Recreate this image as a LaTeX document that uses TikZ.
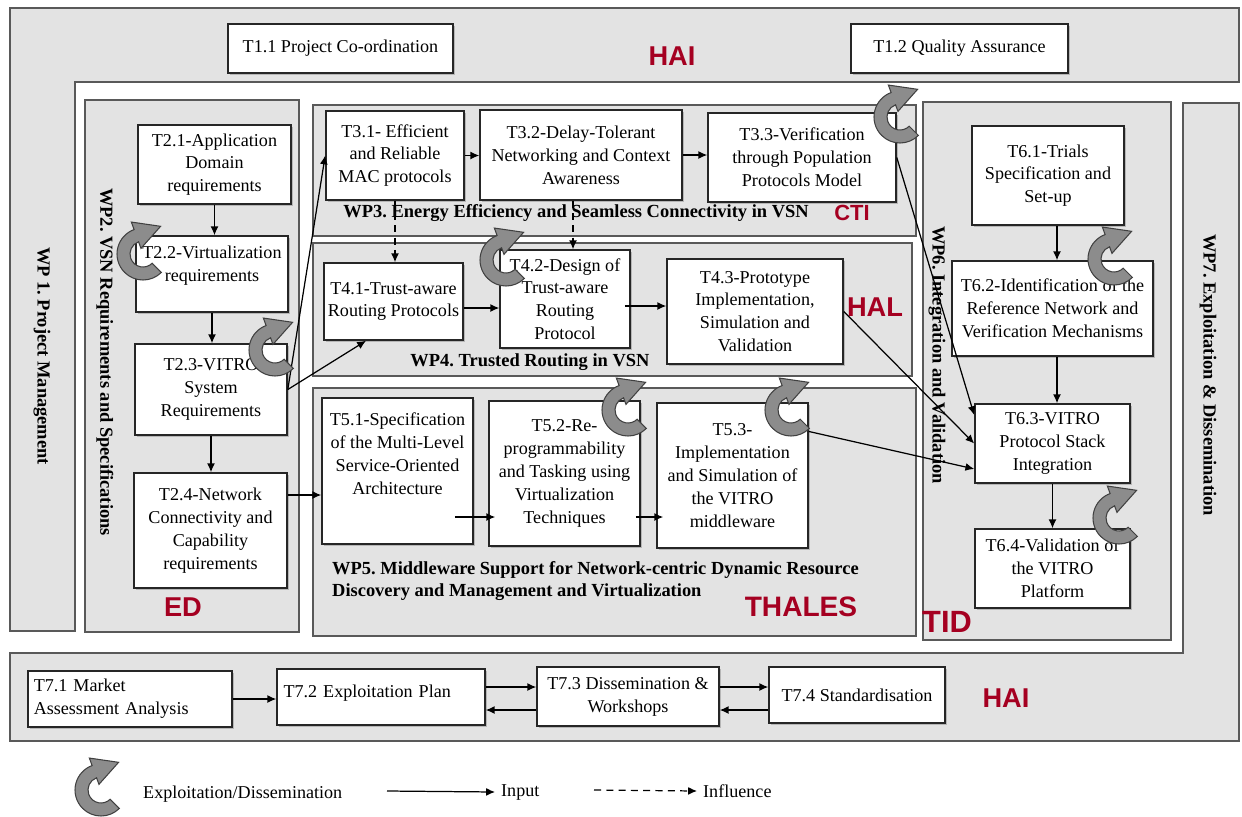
\documentclass[tikz,border=0pt]{standalone}
\usepackage{fontspec}
\setmainfont{Liberation Serif}
\setsansfont{Liberation Sans}
\frenchspacing
\usetikzlibrary{arrows.meta,calc,shadows}
\definecolor{partnerred}{RGB}{165,0,33}
\tikzset{
  wpframe/.style={draw=black!65, line width=1.4pt, fill=black!11},
  task/.style={draw=black!85, line width=0.9pt, fill=white, inner sep=0pt, align=center,
    font=\fontsize{10.3}{13}\selectfont,
    drop shadow={shadow xshift=1.1pt, shadow yshift=-1.1pt, opacity=0.45}},
  boxsize/.style 2 args={minimum width=#1*0.02cm, minimum height=#2*0.02cm},
  wplabel/.style={font=\fontsize{10.5}{13}\selectfont\bfseries},
  partner/.style={text=partnerred, font=\fontsize{15.5}{16}\selectfont\sffamily\bfseries},
  inarrow/.style={-{Latex[length=5pt,width=4.5pt]}, line width=0.7pt},
  inflarrow/.style={inarrow, dash pattern=on 4pt off 3pt},
  pics/exploit/.style={code={
    \filldraw[fill=black!45, draw=black!75, line width=0.6pt]
      (45:26) arc[start angle=45, end angle=250, radius=26]
      -- (250:34) -- (17.6,-27.7) -- (250:6) -- (250:13)
      arc[start angle=250, end angle=45, radius=13] -- cycle;
  }}
}
\begin{document}
\begin{tikzpicture}[x=0.02cm, y=-0.02cm]
\useasboundingbox (0,0) rectangle (1242,816);

% Work package frames
\draw[wpframe] (10,8) -- (1239,8) -- (1239,82) -- (75,82) -- (75,631) -- (10,631) -- cycle;
\draw[wpframe] (1183,103) -- (1239,103) -- (1239,741) -- (10,741) -- (10,653) -- (1183,653) -- cycle;
\draw[wpframe] (85,100) rectangle (299,632);
\draw[wpframe] (313,105) rectangle (916,236);
\draw[wpframe] (313,243) rectangle (912,376);
\draw[wpframe] (313,388) rectangle (916,636);
\draw[wpframe] (923,102) rectangle (1171,640);

% Work package titles
\node[wplabel, rotate=-90] (wp1) at (42,356) {WP 1. Project Management};
\node[wplabel, rotate=-90] (wp2) at (105,362) {WP2. VSN Requirements and Specifications};
\node[wplabel] (wp3) at (576,213) {WP3. Energy Efficiency and Seamless Connectivity in VSN};
\node[wplabel] (wp4) at (530,362) {WP4. Trusted Routing in VSN};
\node[wplabel, align=left, anchor=west] (wp5) at (326,581)
  {WP5. Middleware Support for Network-centric Dynamic Resource\\Discovery and Management and Virtualization};
\node[wplabel, rotate=-90] (wp6) at (937,355) {WP6. Integration and Validation};
\node[wplabel, rotate=-90] (wp7) at (1208,375) {WP7. Exploitation \& Dissemination};

% Tasks
\node[task, boxsize={225}{49}] (t11) at (340.5,48.5) {T1.1 Project Co-ordination};
\node[task, boxsize={217}{49}] (t12) at (959.5,48.5) {T1.2 Quality Assurance};

\node[task, boxsize={153}{79}] (t21) at (214.5,164.5) {T2.1-Application\\Domain\\requirements};
\node[task, boxsize={152}{76}, text depth=12pt] (t22) at (212,274) {T2.2-Virtualization\\requirements};
\node[task, boxsize={152}{91}] (t23) at (211,389.5) {T2.3-VITRO\\System\\Requirements};
\node[task, boxsize={153}{115}] (t24) at (210.5,530.5) {T2.4-Network\\Connectivity and\\Capability\\requirements};

\node[task, boxsize={138}{89}] (t31) at (395,155.5) {T3.1- Efficient\\and Reliable\\MAC protocols};
\node[task, boxsize={202}{90}] (t32) at (581,155) {T3.2-Delay-Tolerant\\Networking and Context\\Awareness};
\node[task, boxsize={188}{89}] (t33) at (802,157.5) {T3.3-Verification\\through Population\\Protocols Model};

\node[task, boxsize={139}{77}] (t41) at (393.5,301.5) {T4.1-Trust-aware\\Routing Protocols};
\node[task, boxsize={130}{98}] (t42) at (565,299) {T4.2-Design of\\Trust-aware\\Routing\\Protocol};
\node[task, boxsize={176}{105}] (t43) at (755,311.5) {T4.3-Prototype\\Implementation,\\Simulation and\\Validation};

\node[task, boxsize={151}{146}, text depth=20pt] (t51) at (397.5,471) {T5.1-Specification\\of the Multi-Level\\Service-Oriented\\Architecture};
\node[task, boxsize={151}{145}] (t52) at (564.5,473.5) {T5.2-Re-\\programmability\\and Tasking using\\Virtualization\\Techniques};
\node[task, boxsize={151}{145}] (t53) at (732.5,475.5) {T5.3-\\Implementation\\and Simulation of\\the VITRO\\middleware};

\node[task, boxsize={152}{99}] (t61) at (1048,175.5) {T6.1-Trials\\Specification and\\Set-up};
\node[task, boxsize={201}{95}] (t62) at (1052.5,308.5) {T6.2-Identification of the\\Reference Network and\\Verification Mechanisms};
\node[task, boxsize={155}{79}] (t63) at (1052.5,443.5) {T6.3-VITRO\\Protocol Stack\\Integration};
\node[task, boxsize={155}{79}] (t64) at (1052.5,568.5) {T6.4-Validation of\\the VITRO\\Platform};

\node[task, boxsize={204}{56}, text width=3.85cm, align=left] (t71) at (130,699) {T7.1 Market\\Assessment Analysis};
\node[task, boxsize={208}{56}, text width=3.9cm, align=left, text depth=7pt] (t72) at (381,697) {T7.2 Exploitation Plan};
\node[task, boxsize={182}{59}] (t73) at (628,696.5) {T7.3 Dissemination \&\\Workshops};
\node[task, boxsize={176}{56}] (t74) at (857,695) {T7.4 Standardisation};

% Partners
\node[partner] (hai1) at (672,56) {HAI};
\node[partner, font=\fontsize{12.5}{13}\selectfont\sffamily\bfseries] (cti) at (852,213) {CTI};
\node[partner] (hal) at (875,307) {HAL};
\node[partner] (ed) at (183,607) {ED};
\node[partner, font=\fontsize{16}{16}\selectfont\sffamily\bfseries] (thales) at (801,607) {THALES};
\node[partner, font=\fontsize{17.5}{18}\selectfont\sffamily\bfseries] (tid) at (947,622) {TID};
\node[partner] (hai2) at (1006,698) {HAI};

% Levels used by the connectors
\coordinate (y306) at (0,306);
\coordinate (y308) at (0,308);
\coordinate (y495) at (0,495);
\coordinate (y517) at (0,517);
\coordinate (y687) at (0,687);
\coordinate (y710) at (0,710);
\coordinate (x573) at (573,0);
\coordinate (x1057) at (1057,0);

% Inputs
\draw[inarrow] (t21.south) -- (t21.south |- t22.north);
\draw[inarrow] (t22.south) -- (t22.south |- t23.north);
\draw[inarrow] (t23.south) -- (t23.south |- t24.north);
\draw[inarrow] (t23.east) -- (t31.west);
\draw[inarrow] (t23.east) -- (t41.235);
\draw[inarrow] (t24.east |- y495) -- (t51.west |- y495);
\draw[inarrow] (t31.east) -- (t31.east -| t32.west);
\draw[inarrow] (t32.east) -- (t32.east -| t33.west);
\draw[inarrow] (t41.east |- y308) -- (t42.west |- y308);
\draw[inarrow] ($(t42.east |- y306)+(-6,0)$) -- (t43.west |- y306);
\draw[inarrow] ($(t51.east |- y517)+(-19,0)$) -- ($(t52.west |- y517)+(7,0)$);
\draw[inarrow] ($(t52.east |- y517)+(-5,0)$) -- ($(t53.west |- y517)+(7,0)$);
\draw[inarrow] (t33.east) -- (t63.160);
\draw[inarrow] (t43.east) -- (t63.west);
\draw[inarrow] (t53.30) -- (t63.198);
\draw[inarrow] (t61.south -| x1057) -- (t62.north -| x1057);
\draw[inarrow] (t62.south -| x1057) -- (t63.north -| x1057);
\draw[inarrow] (t63.south) -- (t64.north);
\draw[inarrow] (t71.east) -- (t71.east -| t72.west);
\draw[inarrow] (t72.east |- y687) -- (t73.west |- y687);
\draw[inarrow] (t73.west |- y710) -- (t72.east |- y710);
\draw[inarrow] (t73.east |- y687) -- (t74.west |- y687);
\draw[inarrow] (t74.west |- y710) -- (t73.east |- y710);

% Influences
\draw[inflarrow] (t31.south) -- (t31.south |- t41.north);
\draw[inflarrow] (t32.south -| x573) -- (t42.north -| x573);

% Exploitation / dissemination
\foreach \cx/\cy in {143/254, 275/350, 506/260, 900/117, 628/410, 791/410, 1114/259, 1119/518, 101/790}
  \pic at (\cx,\cy) {exploit};

% Legend
\node[anchor=west, font=\fontsize{10.3}{13}\selectfont] (lgexp) at (137,794) {Exploitation/Dissemination};
\coordinate (lgin) at (387,791);
\node[anchor=west, font=\fontsize{10.3}{13}\selectfont] (lginput) at (495,792) {Input};
\draw[inarrow] (lgin) -- (lginput.west);
\coordinate (lginf) at (594,790);
\node[anchor=west, font=\fontsize{10.3}{13}\selectfont] (lginfl) at (697,791) {Influence};
\draw[inflarrow] (lginf) -- (lginfl.west);

\end{tikzpicture}
\end{document}
